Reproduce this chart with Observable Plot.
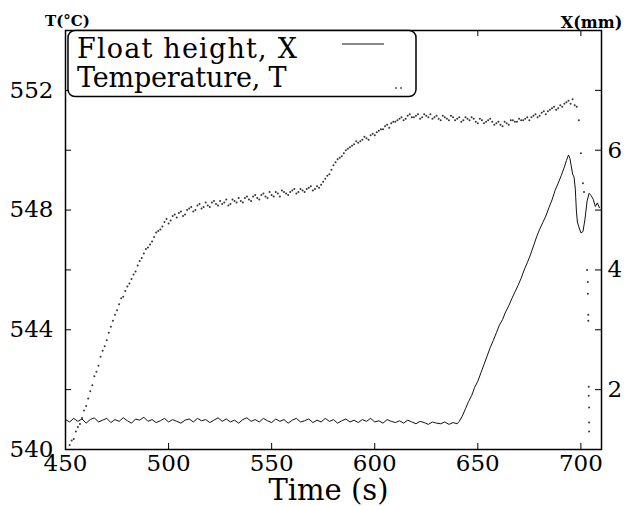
<!DOCTYPE html>
<html><head><meta charset="utf-8">
<script src="https://cdn.jsdelivr.net/npm/d3@7"></script>
<script src="https://cdn.jsdelivr.net/npm/@observablehq/plot@0.6"></script>
<style>
body{margin:0;background:#fff;}
#chart{width:626px;height:506px;}
</style>
</head><body><div id="chart"></div>
<script>
// ---- data ----
const xTicks = [450, 500, 550, 600, 650, 700];
const tempTicks = [540, 544, 548, 552];
const tempMinorTicks = [542, 546, 550];
const heightTicks = [1, 2, 3, 4, 5, 6, 7, 8];
const heightLabels = [2, 4, 6];

const floatTime = [
  450,452,454,456,458,460,462,464,466,468,470,
  472,474,476,478,480,482,484,486,488,490,
  492,494,496,498,500,502,504,506,508,510,
  512,514,516,518,520,522,524,526,528,530,
  532,534,536,538,540,542,544,546,548,550,
  552,554,556,558,560,562,564,566,568,570,
  572,574,576,578,580,582,584,586,588,590,
  592,594,596,598,600,602,604,606,608,610,
  612,614,616,618,620,622,624,626,628,630,
  632,634,636,638,640,
  641,642.5,644,645.5,647,648.5,650,651.5,653,654.5,656,657.5,659,660.5,662,663.5,665,666.5,668,669.5,
  671,672.5,674,675.5,677,678.5,680,681.5,683,684.5,686,687.5,689,690.5,692,693,694,694.7,695.4,696,
  696.7,697.3,697.8,698.3,699,700,701,702,703,704,705,706,707,708,709
];
const floatX = [
  1.50,1.46,1.52,1.47,1.51,1.44,1.50,1.53,1.46,1.49,1.52,
  1.45,1.50,1.47,1.53,1.48,1.44,1.51,1.49,1.54,1.47,
  1.50,1.45,1.48,1.52,1.46,1.50,1.47,1.44,1.49,1.51,
  1.46,1.52,1.48,1.50,1.45,1.49,1.53,1.47,1.51,1.46,
  1.49,1.44,1.50,1.53,1.47,1.50,1.46,1.52,1.48,1.45,
  1.51,1.47,1.50,1.44,1.49,1.52,1.46,1.48,1.51,1.45,
  1.49,1.46,1.52,1.47,1.50,1.44,1.48,1.51,1.46,1.49,
  1.45,1.50,1.47,1.52,1.46,1.48,1.44,1.50,1.47,1.45,
  1.48,1.44,1.49,1.46,1.43,1.47,1.45,1.42,1.46,1.44,
  1.43,1.46,1.42,1.45,1.43,
  1.47,1.56,1.68,1.80,1.90,2.04,2.14,2.28,2.42,2.56,2.70,2.82,2.95,3.08,3.17,3.30,3.40,3.52,3.63,3.74,
  3.86,4.00,4.12,4.25,4.40,4.55,4.68,4.79,4.90,5.04,5.17,5.33,5.45,5.58,5.72,5.83,5.92,5.86,5.72,5.60,
  5.55,5.35,5.00,4.80,4.72,4.62,4.64,4.85,5.15,5.28,5.24,5.18,5.06,5.12,5.04
];

// temperature readings, even seconds (plus the final drop)
const tempTime = [
  452,454,456,458,460,462,464,466,468,470,472,474,476,478,480,482,484,486,488,490,
  492,494,496,498,500,502,504,506,508,510,512,514,516,518,520,522,524,526,528,530,
  532,534,536,538,540,542,544,546,548,550,552,554,556,558,560,562,564,566,568,570,
  572,574,576,578,580,582,584,586,588,590,592,594,596,598,600,602,604,606,608,610,
  612,614,616,618,620,622,624,626,628,630,632,634,636,638,640,642,644,646,648,650,
  652,654,656,658,660,662,664,666,668,670,672,674,676,678,680,682,684,686,688,690,
  692,694,695,696,697,698,699,700,701,701.5,703,703.4,703.4,703.6,703.6,703.8,703.8,704,704,704
];
const tempVal = [
  540.15,540.35,540.75,541.05,541.45,541.95,542.45,542.8,543.3,543.65,544.1,544.5,544.85,545.1,545.45,545.7,545.95,546.3,546.55,546.75,
  546.95,547.25,547.35,547.6,547.55,547.8,547.75,547.95,547.85,548.05,547.95,548.15,548.05,548.25,548.1,548.3,548.15,548.2,548.35,548.2,
  548.3,548.4,548.25,548.45,548.3,548.5,548.35,548.55,548.4,548.5,548.6,548.45,548.6,548.5,548.65,548.55,548.7,548.6,548.75,548.65,
  548.8,548.85,549.05,549.2,549.5,549.7,549.8,550.0,550.1,550.2,550.25,550.35,550.4,550.5,550.5,550.65,550.7,550.85,550.9,550.95,
  551.05,551.0,551.15,551.1,551.15,551.05,551.2,551.1,551.05,551.15,551.0,551.1,551.0,551.1,551.05,550.95,551.1,551.0,551.05,550.9,
  551.0,550.95,551.05,550.85,550.95,550.8,550.9,551.0,550.95,551.05,551.0,551.1,551.1,551.2,551.15,551.3,551.3,551.4,551.35,551.5,
  551.55,551.65,551.55,551.7,551.5,551.45,551.0,549.9,548.9,548.6,546.0,545.6,545.2,544.5,544.3,542.1,541.8,541.4,540.9,540.6
];
// temperature readings, odd seconds
const tempTime2 = [
  453,455,457,459,461,463,465,467,469,471,473,475,477,479,481,483,485,487,489,491,
  493,495,497,499,501,503,505,507,509,511,513,515,517,519,521,523,525,527,529,531,
  533,535,537,539,541,543,545,547,549,551,553,555,557,559,561,563,565,567,569,571,
  573,575,577,579,581,583,585,587,589,591,593,595,597,599,601,603,605,607,609,611,
  613,615,617,619,621,623,625,627,629,631,633,635,637,639,641,643,645,647,649,651,
  653,655,657,659,661,663,665,667,669,671,673,675,677,679,681,683,685,687,689,691,
  693
];
const tempVal2 = [
  540.3,540.6,540.85,541.3,541.7,542.15,542.6,543.1,543.45,543.9,544.3,544.65,545.05,545.3,545.55,545.85,546.15,546.4,546.7,546.85,
  547.1,547.3,547.45,547.7,547.65,547.85,547.9,547.8,548.0,548.1,548.0,548.2,548.1,548.15,548.25,548.2,548.3,548.25,548.15,548.35,
  548.25,548.3,548.4,548.35,548.45,548.4,548.5,548.45,548.6,548.45,548.55,548.65,548.55,548.6,548.7,548.6,548.65,548.7,548.8,548.7,
  548.75,548.95,549.15,549.35,549.6,549.75,549.9,550.05,550.15,550.3,550.3,550.45,550.35,550.55,550.6,550.7,550.8,550.75,550.95,551.0,
  551.1,551.05,551.2,551.1,551.2,551.1,551.15,551.2,551.1,551.05,551.15,551.05,551.15,551.0,551.1,551.0,551.05,551.1,550.95,551.05,
  550.9,551.0,550.95,550.9,550.85,550.95,550.85,551.0,550.95,551.0,551.05,551.0,551.15,551.1,551.25,551.2,551.35,551.45,551.4,551.45,
  551.6
];

// ---- build ----
const toT = d3.scaleLinear([1, 8], [540, 554]); // maps X (mm) onto the T axis
const floatData = floatTime.map((t, i) => ({t, v: toT(floatX[i])}));
const tempData = tempTime.map((t, i) => ({t, v: tempVal[i]}))
  .concat(tempTime2.map((t, i) => ({t, v: tempVal2[i]})));

const W = 626, H = 506, mL = 65, mR = 25, mT = 30, mB = 57;
const iw = W - mL - mR, ih = H - mT - mB, tk = 6;
const SERIF = "'DejaVu Serif', serif";

const svg = Plot.plot({
  width: W, height: H,
  marginLeft: mL, marginRight: mR, marginTop: mT, marginBottom: mB,
  style: {fontFamily: SERIF, fontSize: "23px", color: "#000", background: "#fff"},
  x: {domain: [450, 710]},
  y: {domain: [540, 554]},
  marks: [
    Plot.dot(tempData, {x: "t", y: "v", r: 1, fill: "#333", stroke: null}),
    Plot.line(floatData, {x: "t", y: "v", stroke: "#111", strokeWidth: 1}),
    Plot.frame({stroke: "#000", strokeWidth: 1.5}),
    // inward ticks
    Plot.tickY(tempTicks.concat(tempMinorTicks), {y: d => d, insetRight: iw - tk, stroke: "#000"}),
    Plot.tickY(heightTicks, {y: d => toT(d), insetLeft: iw - tk, stroke: "#000"}),
    Plot.tickX(xTicks, {x: d => d, insetTop: ih - tk, stroke: "#000"}),
    Plot.tickX(xTicks, {x: d => d, insetBottom: ih - tk, stroke: "#000"}),
    // tick labels
    Plot.axisX(xTicks, {tickSize: 0, tickPadding: 5, label: null, fontSize: 23}),
    Plot.axisY(tempTicks, {anchor: "left", tickSize: 0, tickPadding: 12, label: null, fontSize: 23}),
    Plot.axisY(heightLabels.map(d => toT(d)), {anchor: "right", tickSize: 0, tickPadding: 6, label: null, fontSize: 23,
      tickFormat: d => String(Math.round(toT.invert(d)))}),
    // axis titles
    Plot.text(["T(°C)"], {frameAnchor: "top-left", dx: 2, dy: -15, textAnchor: "middle", fontSize: 15, fontWeight: "bold"}),
    Plot.text(["X(mm)"], {frameAnchor: "top-right", dx: -10, dy: -14, textAnchor: "middle", fontSize: 16, fontWeight: "bold"}),
    Plot.text(["Time (s)"], {frameAnchor: "bottom", dx: -5, dy: 41, textAnchor: "middle", lineAnchor: "middle", fontSize: 29,
      letterSpacing: 3})
  ]
});

// legend box inside the frame
const g = d3.select(svg).append("g").attr("text-anchor", "start").style("font-family", SERIF);
g.append("rect").attr("x", 68).attr("y", 30.5).attr("width", 348).attr("height", 66)
  .attr("rx", 7).attr("fill", "#fff").attr("stroke", "#000").attr("stroke-width", 1.5);
g.append("text").attr("x", 77).attr("y", 58).attr("font-size", 27).attr("letter-spacing", 1.2)
  .attr("text-anchor", "start").text("Float height, X");
g.append("text").attr("x", 77).attr("y", 87).attr("font-size", 27).attr("letter-spacing", -0.2)
  .attr("text-anchor", "start").text("Temperature, T");
g.append("line").attr("x1", 342).attr("x2", 384).attr("y1", 44).attr("y2", 44).attr("stroke", "#111").attr("stroke-width", 1);
g.selectAll("circle.s").data([396, 401]).join("circle").attr("cx", d => d).attr("cy", 88).attr("r", 0.9).attr("fill", "#444");

document.getElementById("chart").appendChild(svg);
</script>
</body></html>
